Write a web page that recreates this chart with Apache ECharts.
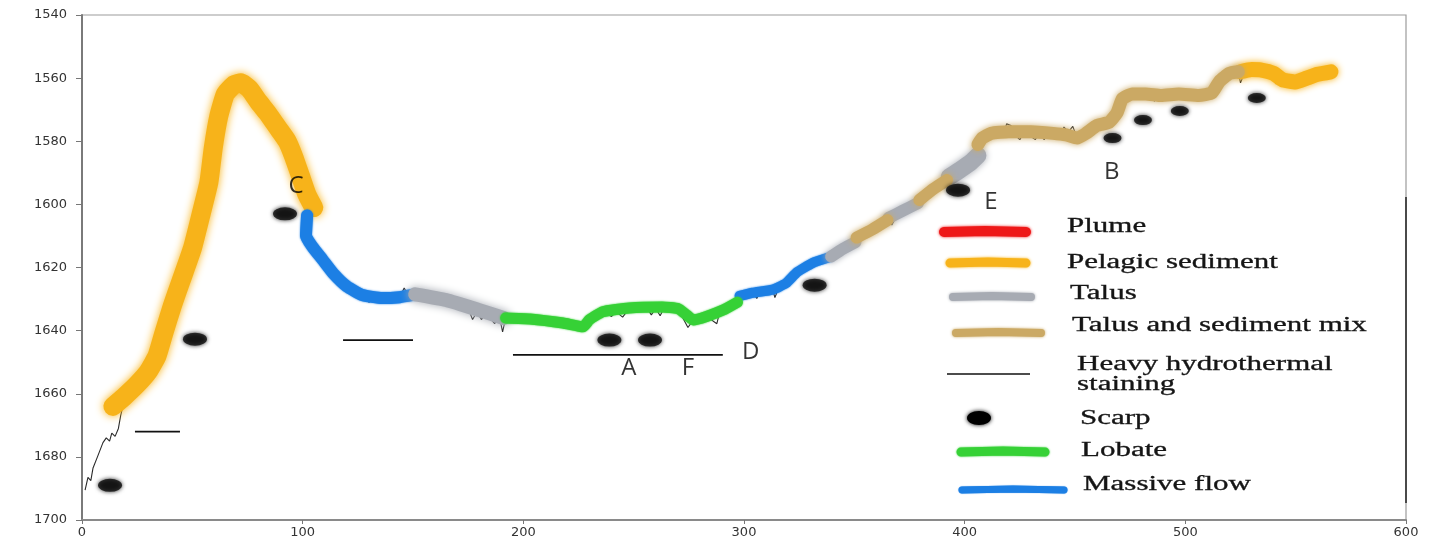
<!DOCTYPE html>
<html>
<head>
<meta charset="utf-8">
<title>Depth profile</title>
<script src="https://cdn.jsdelivr.net/npm/echarts@6/dist/echarts.min.js"></script>
<style>
  html, body { margin: 0; padding: 0; background: #ffffff; }
  #main { width: 1435px; height: 539px; }
</style>
</head>
<body>
<div id="main"></div>
<script>
// ---------- data: [distance, depth] ----------
// thin bathymetry trace (mostly hidden under the coloured bands)
var profile = [
  [1.4,1690.5],[2.7,1686.5],[4,1687.5],[5,1683.5],[7,1680],[9.5,1675.5],[11,1674],[12.5,1675],
  [13.5,1672.5],[15,1673.5],[16.5,1671],[17.5,1667],[18.5,1664],[25,1657.5],[30,1653],[34,1648],
  [37,1641],[41,1632],[45,1624],[49,1616],[53,1606],[56,1596],[58.5,1586],[61,1576],[64,1568],
  [67.5,1564],[71,1561.5],[80,1567.5],[90,1577],[96,1585],[102,1597],[103,1604],[102,1610],[109,1617.5],
  [120,1626],[127,1629],[130,1631],[133,1629.5],[136,1631],[140,1629.5],[144,1629.4],[146,1626.5],
  [148,1629],[151,1628.5],[165,1630.5],[175,1633],[177,1636.5],[179,1634],[181,1636.5],[183,1634.5],
  [187,1637.8],[189,1635],[190.6,1640.4],[192,1636],[203,1636.3],[218,1637.6],[227,1638.8],
  [229,1639.5],[231,1636],[236,1634],[240,1635.5],[242,1634],[245,1635.7],[248,1633],[256,1632.8],
  [258,1635],[260,1633],[262,1635.3],[264,1632.5],[270,1633],[274.6,1639],[277,1636.6],[283,1635.5],
  [287.7,1637.8],[289,1634],[297,1631],[304,1628],[305.8,1629.8],[307,1628],[313,1627],[314,1629.5],
  [316,1626],[324,1621.5],[331,1618.6],[339,1616.7],[350,1612],[352,1610],[354,1608],[358,1608],
  [365,1605],[367,1606.5],[370,1602.5],[379,1599],[386,1595],[392,1592],[400,1588],[404,1584],
  [406,1582.5],[408,1578.5],[412,1577.5],[418,1577],[419,1574.5],[421,1575],[422,1577.5],[425,1579.5],
  [427,1577],[432,1579.5],[434,1577],[436,1579.5],[438,1577.5],[444,1577.3],[445,1575.5],[447,1577],
  [449,1575.3],[451,1579],[455,1577.5],[460,1575],[465.5,1574],[469,1571],[471.5,1566.5],[476,1565],
  [482,1565],[486,1567.3],[488,1565.5],[497,1565],[503,1567],[504,1565.5],[506,1567],[508,1565.5],
  [512,1564.7],[515.5,1561],[520,1558.5],[524,1558],[525,1561.5],[527,1558],[533,1557.4],[540,1558.5],
  [541,1561.8],[543,1560.3],[550,1561.2],[566,1558]
];

// pelagic sediment
var pelagicA = [
  [14,1664],[19,1661],[25,1657],[30,1653],[34,1648],[37,1641],[41,1632],[45,1624],[50,1614],
  [54,1603],[57.5,1593],[59.5,1582],[62,1572],[65,1565],[69,1562],[72,1561.5],[76,1563.5],
  [80,1567.5],[84,1571],[89,1576],[93,1580],[96,1585],[99,1591],[102,1597],[105,1601]
];
var pelagicB = [
  [525,1558],[530,1557.3],[534,1557.4],[540,1558.5],[544,1560.5],[550,1561.2],[555,1560],
  [560,1558.8],[566,1558]
];

// massive flow
var massiveA = [
  [102,1603.5],[101.5,1610],[104.5,1613.5],[109,1617.5],[114,1622],[120,1626],[127,1628.7],
  [136,1629.7],[144,1629.4],[150,1628.7]
];
var massiveB = [
  [298,1629],[304,1628],[313,1627],[319,1625],[324,1621.5],[331,1618.6],[339,1616.7]
];

// talus
var talusA = [[151,1628.5],[165,1630.3],[180,1633.5],[191,1636]];
var talusB = [[339.5,1616.5],[345,1614],[350.5,1612]];
var talusC = [[365.5,1604.3],[372,1602],[378.8,1599.6]];
var talusD = [[393,1591.3],[398,1589],[403,1586.5],[406,1584.5]];

// talus and sediment mix
var mixA = [[351,1610.5],[358,1608],[365,1605]];
var mixB = [[379.5,1598.6],[386,1595],[392,1592.3]];
var mixC = [
  [406,1581],[408,1579],[412,1577.5],[420,1577],[430,1577],[440,1577.5],[446,1578],[451,1579],
  [455,1577.5],[460,1575],[465.5,1574],[469,1571],[471.5,1566.5],[476,1565],[482,1565],
  [489,1565.5],[497,1565],[506,1565.5],[512,1564.7],[515.5,1561],[520,1558.5],[524,1558]
];

// lobate
var lobate = [
  [192,1636],[203,1636.3],[218,1637.6],[227,1638.8],[230,1636.5],[236,1634],[248,1632.8],
  [263,1632.5],[270,1633],[274,1635],[277,1636.6],[283,1635.5],[290.5,1633.5],[297,1631]
];

// heavy hydrothermal staining
var stainingA = [[24,1672],[44.4,1672]];
var stainingB = [[118.3,1643],[150,1643]];
var stainingC = [[195.3,1647.7],[290.4,1647.7]];

// scarps
var scarps = [
  [12.7,1689],[51.2,1642.7],[92,1603],[239,1643],[257.4,1643],[332,1625.6],[397,1595.5],
  [467,1579],[480.8,1573.3],[497.5,1570.4],[532.4,1566.3]
];

// site letters
var siteNames = ["C", "A", "F", "D", "E", "B"];
var sitePoints = [[97,1594.2],[247.8,1651.8],[274.6,1651.8],[303,1646.8],[411.9,1599.3],[466.7,1589.7]];

var legendNames = ["Plume", "Pelagic sediment", "Talus", "Talus and sediment mix",
  "Heavy hydrothermal", "staining", "Scarp", "Lobate", "Massive flow"];

// ---------- styles ----------
var C_PLUME = "#EE1818";
var C_PELAGIC = "#F7B31A";
var C_TALUS = "#A7ABB3";
var C_MIX = "#CBA964";
var C_LOBATE = "#36D136";
var C_MASSIVE = "#1C7FE4";

// one thick blurred band for a segment
function band(data, color, width, blur) {
  return {
    type: "line",
    data: data,
    showSymbol: false,
    smooth: 0.15,
    silent: true,
    z: 3,
    lineStyle: {
      color: color,
      width: width,
      cap: "round",
      join: "round",
      shadowColor: color,
      shadowBlur: blur,
    },
  };
}

function stain(data) {
  return {
    type: "line",
    data: data,
    showSymbol: false,
    silent: true,
    z: 4,
    lineStyle: { color: "#111", width: 1.8 },
  };
}

var chart = echarts.init(document.getElementById("main"), null, { renderer: "canvas" });

// legend drawn by hand (stroke samples + serif text)
var graphics = [];
function legendStroke(x1, x2, y, color, w, blur) {
  graphics.push({
    type: "polyline",
    z: 10,
    shape: { points: [[x1, y], [(x1 + x2) / 2, y - 1], [x2, y]] },
    style: { stroke: color, lineWidth: w, lineCap: "round", shadowColor: color, shadowBlur: blur, fill: null },
  });
}
function legendText(str, x, y) {
  graphics.push({
    type: "text",
    z: 10,
    x: x,
    y: y,
    scaleX: 1.55,
    style: {
      text: str,
      fill: "#151515",
      font: '20px "Liberation Serif", "Times New Roman", serif',
      verticalAlign: "middle",
      stroke: "#151515",
      lineWidth: 0.3,
    },
  });
}
legendStroke(944, 1026, 232, C_PLUME, 10, 3);
legendStroke(950, 1026, 263, C_PELAGIC, 9, 3);
legendStroke(953, 1031, 297, C_TALUS, 8, 3);
legendStroke(956, 1041, 333, C_MIX, 8, 3);
graphics.push({
  type: "line",
  z: 10,
  shape: { x1: 947, y1: 374, x2: 1030, y2: 374 },
  style: { stroke: "#111", lineWidth: 1.6 },
});
graphics.push({
  type: "ellipse",
  z: 10,
  shape: { cx: 979, cy: 418, rx: 12, ry: 7 },
  style: { fill: "#000", shadowColor: "#000", shadowBlur: 4 },
});
legendStroke(961, 1045, 452, C_LOBATE, 9, 2);
legendStroke(962, 1064, 490, C_MASSIVE, 7, 1);
var textPos = [[1067,227],[1067,263],[1070,294],[1072,326],[1077,365],[1077,385],[1080,419],[1081,451],[1083,485]];
for (var i = 0; i < legendNames.length; i++) {
  legendText(legendNames[i], textPos[i][0], textPos[i][1]);
}
// darker piece of the right frame
graphics.push({
  type: "line",
  z: 10,
  shape: { x1: 1406, y1: 197, x2: 1406, y2: 503 },
  style: { stroke: "#4a4a4a", lineWidth: 2 },
});

var siteData = [];
for (var j = 0; j < siteNames.length; j++) {
  siteData.push({ name: siteNames[j], value: sitePoints[j] });
}

var option = {
  backgroundColor: "#ffffff",
  animation: false,
  grid: {
    left: 82,
    right: 29,
    top: 15,
    bottom: 19,
    show: true,
    borderColor: "#9c9c9c",
    borderWidth: 1.2,
  },
  xAxis: {
    type: "value",
    min: 0,
    max: 600,
    interval: 100,
    axisLine: { show: true, lineStyle: { color: "#8a8a8a", width: 2 } },
    axisTick: { show: true, length: 4, lineStyle: { color: "#777" } },
    axisLabel: {
      color: "#333",
      fontSize: 13,
      fontFamily: "DejaVu Sans",
      margin: 6,
      formatter: function (v) { return String(v); },
    },
    splitLine: { show: false },
  },
  yAxis: {
    type: "value",
    inverse: true,
    min: 1540,
    max: 1700,
    interval: 20,
    axisLine: { show: true, lineStyle: { color: "#7a7a7a", width: 2 } },
    axisTick: { show: true, length: 6, lineStyle: { color: "#777" } },
    axisLabel: {
      color: "#333",
      fontSize: 13,
      fontFamily: "DejaVu Sans",
      margin: 15,
      formatter: function (v) { return String(v); },
    },
    splitLine: { show: false },
  },
  graphic: graphics,
  series: [
    {
      type: "line",
      data: profile,
      showSymbol: false,
      silent: true,
      z: 2,
      lineStyle: { color: "#2a2a2a", width: 1.1 },
    },
    band(pelagicA, C_PELAGIC, 19, 8),
    band(pelagicB, C_PELAGIC, 15, 7),
    band(massiveA, C_MASSIVE, 12, 2),
    band(massiveB, C_MASSIVE, 10, 2),
    band(talusA, C_TALUS, 14, 8),
    band(talusB, C_TALUS, 12, 6),
    band(talusC, C_TALUS, 12, 6),
    band(talusD, C_TALUS, 17, 7),
    band(mixA, C_MIX, 12, 6),
    band(mixB, C_MIX, 12, 6),
    band(mixC, C_MIX, 13, 6),
    band(lobate, C_LOBATE, 11, 2),
    stain(stainingA),
    stain(stainingB),
    stain(stainingC),
    {
      type: "scatter",
      data: scarps,
      silent: true,
      z: 5,
      symbol: "circle",
      symbolSize: function (val) {
        return val[0] > 460 ? [18, 10] : [24, 13];
      },
      itemStyle: { color: "#0d0d0d", shadowColor: "#000", shadowBlur: 4 },
    },
    {
      type: "scatter",
      data: siteData,
      silent: true,
      z: 6,
      symbolSize: 1,
      itemStyle: { color: "transparent" },
      label: {
        show: true,
        position: "inside",
        formatter: "{b}",
        color: "#000",
        fontSize: 24,
        fontFamily: "Open Sans",
      },
    },
  ],
};

chart.setOption(option);
</script>
</body>
</html>
